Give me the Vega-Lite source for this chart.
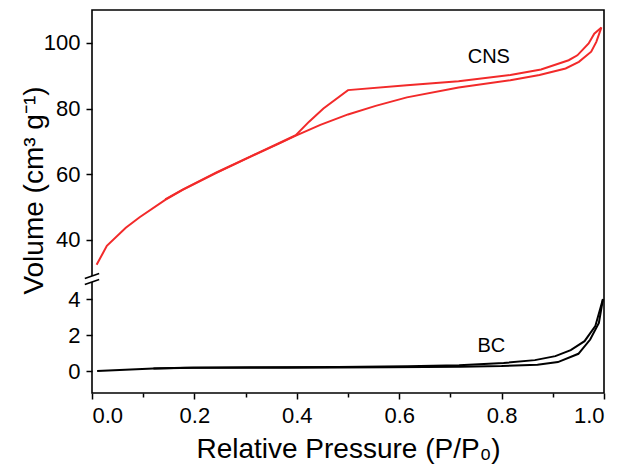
{
  "$schema": "https://vega.github.io/schema/vega-lite/v6.json",
  "width": 512,
  "height": 383,
  "autosize": {"type": "none"},
  "padding": {"left": 92, "top": 10, "right": 16, "bottom": 75},
  "background": "white",
  "config": {
    "view": {"stroke": "black", "strokeWidth": 1.6},
    "font": "Liberation Sans",
    "axis": {
      "domain": false,
      "grid": false,
      "tickColor": "black",
      "tickWidth": 1.5,
      "tickSize": 6,
      "labelColor": "black",
      "labelFont": "Liberation Sans",
      "labelFontSize": 22,
      "titleFont": "Liberation Sans",
      "titleFontSize": 28,
      "titleFontWeight": "normal",
      "titleColor": "black",
      "labelPadding": 6
    }
  },
  "datasets": {
    "cns": [
      {"branch": "ads", "idx": 1, "p": 0.009, "v": 32.4},
      {"branch": "ads", "idx": 2, "p": 0.029, "v": 38.2},
      {"branch": "ads", "idx": 3, "p": 0.066, "v": 43.7},
      {"branch": "ads", "idx": 4, "p": 0.093, "v": 46.9},
      {"branch": "ads", "idx": 5, "p": 0.143, "v": 52.2},
      {"branch": "ads", "idx": 6, "p": 0.177, "v": 55.2},
      {"branch": "ads", "idx": 7, "p": 0.244, "v": 60.5},
      {"branch": "ads", "idx": 8, "p": 0.312, "v": 65.5},
      {"branch": "ads", "idx": 9, "p": 0.366, "v": 69.4},
      {"branch": "ads", "idx": 10, "p": 0.396, "v": 71.6},
      {"branch": "ads", "idx": 11, "p": 0.446, "v": 75.0},
      {"branch": "ads", "idx": 12, "p": 0.500, "v": 78.2},
      {"branch": "ads", "idx": 13, "p": 0.554, "v": 80.8},
      {"branch": "ads", "idx": 14, "p": 0.615, "v": 83.4},
      {"branch": "ads", "idx": 15, "p": 0.716, "v": 86.4},
      {"branch": "ads", "idx": 16, "p": 0.817, "v": 88.6},
      {"branch": "ads", "idx": 17, "p": 0.874, "v": 90.2},
      {"branch": "ads", "idx": 18, "p": 0.925, "v": 92.2},
      {"branch": "ads", "idx": 19, "p": 0.951, "v": 94.2},
      {"branch": "ads", "idx": 20, "p": 0.975, "v": 97.3},
      {"branch": "ads", "idx": 21, "p": 0.985, "v": 100.3},
      {"branch": "ads", "idx": 22, "p": 0.995, "v": 104.7},
      {"branch": "des", "idx": 1, "p": 0.995, "v": 104.7},
      {"branch": "des", "idx": 2, "p": 0.981, "v": 102.8},
      {"branch": "des", "idx": 3, "p": 0.970, "v": 99.8},
      {"branch": "des", "idx": 4, "p": 0.948, "v": 96.2},
      {"branch": "des", "idx": 5, "p": 0.931, "v": 94.7},
      {"branch": "des", "idx": 6, "p": 0.877, "v": 91.9},
      {"branch": "des", "idx": 7, "p": 0.817, "v": 90.2},
      {"branch": "des", "idx": 8, "p": 0.716, "v": 88.3},
      {"branch": "des", "idx": 9, "p": 0.615, "v": 87.1},
      {"branch": "des", "idx": 10, "p": 0.500, "v": 85.6},
      {"branch": "des", "idx": 11, "p": 0.452, "v": 80.0},
      {"branch": "des", "idx": 12, "p": 0.424, "v": 76.0},
      {"branch": "des", "idx": 13, "p": 0.398, "v": 71.9},
      {"branch": "des", "idx": 14, "p": 0.366, "v": 69.5},
      {"branch": "des", "idx": 15, "p": 0.312, "v": 65.6},
      {"branch": "des", "idx": 16, "p": 0.244, "v": 60.6},
      {"branch": "des", "idx": 17, "p": 0.177, "v": 55.3},
      {"branch": "des", "idx": 18, "p": 0.143, "v": 52.3}
    ],
    "bc": [
      {"branch": "ads", "idx": 1, "p": 0.010, "v": 0.02},
      {"branch": "ads", "idx": 2, "p": 0.120, "v": 0.15},
      {"branch": "ads", "idx": 3, "p": 0.198, "v": 0.20},
      {"branch": "ads", "idx": 4, "p": 0.380, "v": 0.20},
      {"branch": "ads", "idx": 5, "p": 0.580, "v": 0.22},
      {"branch": "ads", "idx": 6, "p": 0.720, "v": 0.26},
      {"branch": "ads", "idx": 7, "p": 0.800, "v": 0.29},
      {"branch": "ads", "idx": 8, "p": 0.870, "v": 0.37},
      {"branch": "ads", "idx": 9, "p": 0.910, "v": 0.51},
      {"branch": "ads", "idx": 10, "p": 0.950, "v": 0.97},
      {"branch": "ads", "idx": 11, "p": 0.973, "v": 1.76},
      {"branch": "ads", "idx": 12, "p": 0.990, "v": 2.68},
      {"branch": "ads", "idx": 13, "p": 0.998, "v": 4.00},
      {"branch": "des", "idx": 1, "p": 0.998, "v": 4.00},
      {"branch": "des", "idx": 2, "p": 0.983, "v": 2.50},
      {"branch": "des", "idx": 3, "p": 0.962, "v": 1.67},
      {"branch": "des", "idx": 4, "p": 0.935, "v": 1.17},
      {"branch": "des", "idx": 5, "p": 0.905, "v": 0.84},
      {"branch": "des", "idx": 6, "p": 0.865, "v": 0.62},
      {"branch": "des", "idx": 7, "p": 0.804, "v": 0.46},
      {"branch": "des", "idx": 8, "p": 0.717, "v": 0.33},
      {"branch": "des", "idx": 9, "p": 0.616, "v": 0.28},
      {"branch": "des", "idx": 10, "p": 0.480, "v": 0.24},
      {"branch": "des", "idx": 11, "p": 0.310, "v": 0.22},
      {"branch": "des", "idx": 12, "p": 0.180, "v": 0.20},
      {"branch": "des", "idx": 13, "p": 0.120, "v": 0.16}
    ],
    "breaks": [
      {"kind": "gap", "x1": 0, "x2": 0, "y1": 5.277, "y2": 4.945},
      {"kind": "mark", "x1": -0.014, "x2": 0.014, "y1": 5.138, "y2": 5.415},
      {"kind": "mark", "x1": -0.014, "x2": 0.014, "y1": 4.806, "y2": 5.083}
    ]
  },
  "layer": [
    {
      "layer": [
        {
          "data": {"name": "cns"},
          "mark": {"type": "line", "color": "#f22a2a", "strokeWidth": 2},
          "encoding": {
            "x": {
              "field": "p", "type": "quantitative",
              "scale": {"domain": [0, 1], "nice": false, "zero": false},
              "axis": {
                "orient": "bottom",
                "values": [0, 0.2, 0.4, 0.6, 0.8, 1.0],
                "format": ".1f",
                "title": "Relative Pressure (P/P₀)",
                "titleY": 64,
                "titleBaseline": "alphabetic"
              }
            },
            "y": {
              "field": "v", "type": "quantitative",
              "scale": {"domain": [29, 110], "range": [266, 0], "nice": false, "zero": false},
              "axis": {
                "orient": "left",
                "values": [40, 60, 80, 100],
                "format": "d",
                "title": "Volume (cm³ g⁻¹)",
                "titleX": -50,
                "titleY": 180,
                "titleAngle": -90,
                "titleAlign": "center",
                "titleBaseline": "alphabetic"
              }
            },
            "detail": {"field": "branch"},
            "order": {"field": "idx", "type": "quantitative"}
          }
        },
        {
          "data": {"values": [{"label": "CNS", "p": 0.775, "v": 95.6}]},
          "mark": {"type": "text", "fontSize": 20, "color": "black", "font": "Liberation Sans"},
          "encoding": {
            "x": {"field": "p", "type": "quantitative"},
            "y": {"field": "v", "type": "quantitative"},
            "text": {"field": "label"}
          }
        }
      ]
    },
    {
      "layer": [
        {
          "data": {"name": "bc"},
          "mark": {"type": "line", "color": "black", "strokeWidth": 2},
          "encoding": {
            "x": {
              "field": "p", "type": "quantitative",
              "axis": {
                "orient": "bottom",
                "values": [0.1, 0.3, 0.5, 0.7, 0.9],
                "labels": false,
                "tickSize": 4,
                "title": null
              }
            },
            "y": {
              "field": "v", "type": "quantitative",
              "scale": {"domain": [-1.2, 5], "range": [383, 271], "nice": false, "zero": false},
              "axis": {"orient": "left", "values": [0, 2, 4], "format": "d", "title": null}
            },
            "detail": {"field": "branch"},
            "order": {"field": "idx", "type": "quantitative"}
          }
        },
        {
          "data": {"values": [{"label": "BC", "p": 0.78, "v": 1.38}]},
          "mark": {"type": "text", "fontSize": 20, "color": "black", "font": "Liberation Sans"},
          "encoding": {
            "x": {"field": "p", "type": "quantitative"},
            "y": {"field": "v", "type": "quantitative"},
            "text": {"field": "label"}
          }
        },
        {
          "data": {"name": "breaks"},
          "mark": {"type": "rule"},
          "encoding": {
            "x": {"field": "x1", "type": "quantitative"},
            "x2": {"field": "x2"},
            "y": {"field": "y1", "type": "quantitative"},
            "y2": {"field": "y2"},
            "color": {
              "field": "kind", "type": "nominal",
              "scale": {"domain": ["gap", "mark"], "range": ["white", "black"]},
              "legend": null
            },
            "strokeWidth": {
              "field": "kind", "type": "nominal",
              "scale": {"domain": ["gap", "mark"], "range": [4, 1.6]},
              "legend": null
            }
          }
        }
      ]
    }
  ],
  "resolve": {"scale": {"y": "independent"}, "axis": {"x": "independent", "y": "independent"}}
}
